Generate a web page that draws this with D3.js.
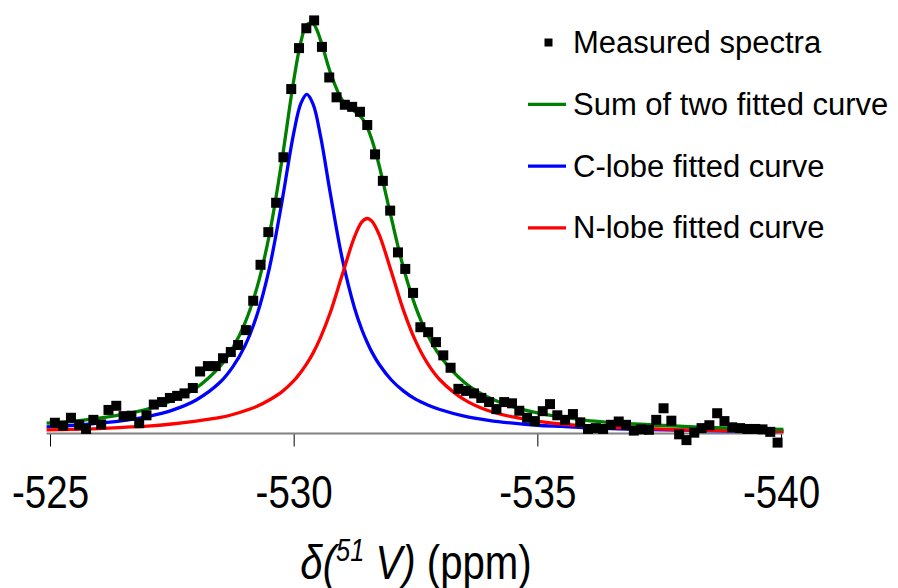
<!DOCTYPE html>
<html>
<head>
<meta charset="utf-8">
<script src="https://cdn.jsdelivr.net/npm/d3@7"></script>
<style>
  body { margin: 0; background: #fff; }
  svg { display: block; }
</style>
</head>
<body>
<script>
// measured spectrum (ppm, intensity a.u.)
var measuredPpm = [-525.10, -525.27, -525.43, -525.60, -525.74, -525.89, -526.05, -526.20, -526.36, -526.51,
    -526.67, -526.83, -526.98, -527.13, -527.30, -527.46, -527.61, -527.76, -527.93, -528.08,
    -528.24, -528.40, -528.55, -528.71, -528.86, -529.02, -529.17, -529.32, -529.48, -529.64,
    -529.79, -529.95, -530.11, -530.26, -530.42, -530.58, -530.73, -530.88, -531.05, -531.20,
    -531.36, -531.51, -531.67, -531.83, -531.98, -532.14, -532.29, -532.45, -532.60, -532.76,
    -532.92, -533.07, -533.22, -533.38, -533.54, -533.70, -533.85, -534.01, -534.16, -534.32,
    -534.48, -534.63, -534.79, -534.95, -535.11, -535.26, -535.41, -535.57, -535.73, -535.88,
    -536.04, -536.20, -536.35, -536.51, -536.67, -536.82, -536.98, -537.13, -537.29, -537.44,
    -537.59, -537.75, -537.91, -538.06, -538.22, -538.37, -538.53, -538.69, -538.84, -539.00,
    -539.16, -539.31, -539.47, -539.62, -539.78, -539.93];
var measuredInt = [2.6, 1.9, 3.8, 2.1, 1.1, 3.3, 2.2, 5.7, 6.7, 4.2,
    4.3, 2.5, 4.4, 7.0, 7.6, 8.6, 9.1, 9.7, 11.0, 15.0,
    16.3, 16.3, 18.2, 19.7, 21.4, 25.0, 32.1, 40.8, 48.7, 55.8,
    66.8, 83.3, 93.2, 98.0, 99.9, 93.5, 86.1, 81.3, 79.5, 79.0,
    77.8, 74.6, 67.5, 61.1, 53.9, 43.8, 39.8, 34.0, 25.7, 24.5,
    22.1, 18.9, 15.9, 10.8, 10.3, 9.7, 8.6, 7.6, 5.9, 7.6,
    7.3, 5.5, 3.8, 3.0, 5.4, 7.1, 4.4, 3.3, 4.7, 2.7,
    1.1, 1.3, 1.1, 2.1, 2.9, 2.1, 0.7, 1.0, 0.9, 3.3,
    6.1, 3.1, -0.2, -1.6, 0.2, 1.3, 2.0, 4.9, 3.0, 1.5,
    1.3, 1.1, 1.1, 1.0, 0.4, -2.2];

// fitted curves, read at these ppm positions
var curvePpm = [-524.93, -525.5, -526, -526.5, -527, -527.5, -528, -528.5, -528.75, -529,
    -529.25, -529.5, -529.75, -530, -530.15, -530.27, -530.4, -530.55, -530.75, -531,
    -531.25, -531.4, -531.51, -531.6, -531.75, -532, -532.25, -532.5, -532.75, -533,
    -533.5, -534, -534.5, -535, -535.5, -536, -537, -538, -539, -540.05];
var sumCurve = [2.5, 3.0, 3.7, 4.6, 5.9, 7.9, 11.0, 16.4, 20.7, 26.7,
    35.4, 48.0, 65.4, 85.3, 94.8, 98.9, 99.1, 95.2, 87.4, 80.6,
    77.9, 76.3, 74.0, 71.2, 65.0, 52.3, 40.2, 30.7, 23.8, 18.8,
    12.4, 8.7, 6.5, 5.0, 4.0, 3.2, 2.3, 1.7, 1.3, 1.0];
var cLobe = [1.6, 2.0, 2.5, 3.1, 4.1, 5.6, 8.1, 12.5, 16.1, 21.2,
    28.8, 39.9, 55.4, 72.6, 79.9, 82.0, 79.6, 72.0, 58.2, 42.1,
    30.3, 25.1, 22.0, 19.8, 16.8, 13.0, 10.3, 8.3, 6.9, 5.8,
    4.2, 3.2, 2.5, 2.0, 1.7, 1.4, 1.0, 0.8, 0.6, 0.5];
var nLobe = [0.9, 1.0, 1.2, 1.5, 1.8, 2.3, 3.0, 3.9, 4.6, 5.5,
    6.6, 8.1, 10.0, 12.7, 14.9, 16.9, 19.5, 23.2, 29.2, 38.5,
    47.6, 51.2, 52.0, 51.4, 48.2, 39.3, 29.9, 22.4, 16.9, 13.0,
    8.2, 5.5, 4.0, 3.0, 2.3, 1.8, 1.3, 0.9, 0.7, 0.5];

var xTicks = [-525, -530, -535, -540];

var legendItems = [
    {label: 'Measured spectra', type: 'marker', color: '#000000'},
    {label: 'Sum of two fitted curve', type: 'line', color: '#008000'},
    {label: 'C-lobe fitted curve', type: 'line', color: '#0000ff'},
    {label: 'N-lobe fitted curve', type: 'line', color: '#ff0000'}
];

var scr = {w: 898, h: 588};

var svg = d3.select('body')
    .append('svg')
    .attr('width', scr.w)
    .attr('height', scr.h);

var xScale = d3.scaleLinear()
    .domain([-525, -540])
    .range([50, 781]);

var yScale = d3.scaleLinear()
    .domain([0, 100])
    .range([433.5, 20]);

// no Arial Narrow here, so squeeze Liberation Sans instead
var axisFont = '"Liberation Sans", Arial, sans-serif';
var squeeze = 0.82;

// x axis
var xAxis = d3.axisBottom(xScale)
    .tickValues(xTicks)
    .tickSize(13)
    .tickSizeOuter(0)
    .tickFormat(function(d) { return String(d); });

var axisG = svg.append('g')
    .attr('transform', 'translate(0,433.5)')
    .call(xAxis);
axisG.select('.domain').remove();
axisG.selectAll('.tick line')
    .attr('stroke', '#000')
    .attr('stroke-width', 1);
axisG.selectAll('.tick text')
    .attr('y', 0)
    .attr('dy', 0)
    .attr('transform', 'translate(0,74) scale(' + squeeze + ',1)')
    .attr('fill', '#000')
    .style('font-family', axisFont)
    .style('font-size', '47px');

svg.append('line')
    .attr('x1', xScale(curvePpm[0]))
    .attr('x2', xScale(curvePpm[curvePpm.length - 1]))
    .attr('y1', 433.5)
    .attr('y2', 433.5)
    .attr('stroke', '#808080')
    .attr('stroke-width', 2);

// axis title
var title = svg.append('text')
    .attr('transform', 'translate(416,579) scale(' + squeeze + ',1)')
    .attr('text-anchor', 'middle')
    .style('font-family', axisFont)
    .style('font-size', '49px')
    .style('white-space', 'pre')
    .attr('fill', '#000');
title.append('tspan').style('font-style', 'italic').text('\u03b4(');
title.append('tspan').style('font-style', 'italic').style('font-size', '31px').attr('dy', -18).text('51');
title.append('tspan').style('font-style', 'italic').attr('dy', 18).text(' V) ');
title.append('tspan').text('(ppm)');

// curves
var line = d3.line()
    .x(function(d) { return xScale(d[0]); })
    .y(function(d) { return yScale(d[1]); })
    .curve(d3.curveCatmullRom.alpha(0.5));

var curves = [
    {values: cLobe, color: '#0000ff'},
    {values: nLobe, color: '#ff0000'},
    {values: sumCurve, color: '#008000'}
];

svg.selectAll('path.fit')
    .data(curves)
    .enter()
    .append('path')
    .classed('fit', true)
    .attr('d', function(c) {
        return line(curvePpm.map(function(p, i) { return [p, c.values[i]]; }));
    })
    .attr('fill', 'none')
    .attr('stroke', function(c) { return c.color; })
    .attr('stroke-width', 3.3);

// measured points
var mSize = 10;
svg.selectAll('rect.pt')
    .data(measuredPpm)
    .enter()
    .append('rect')
    .classed('pt', true)
    .attr('x', function(d) { return xScale(d) - mSize / 2; })
    .attr('y', function(d, i) { return yScale(measuredInt[i]) - mSize / 2; })
    .attr('width', mSize)
    .attr('height', mSize)
    .attr('fill', '#000');

// legend
var legend = svg.append('g')
    .attr('transform', 'translate(527,0)');

var items = legend.selectAll('g')
    .data(legendItems)
    .enter()
    .append('g')
    .attr('transform', function(d, i) { return 'translate(0,' + (42.5 + i * 61.8) + ')'; });

items.filter(function(d) { return d.type == 'line'; })
    .append('line')
    .attr('x1', 1)
    .attr('x2', 39)
    .attr('y1', 0)
    .attr('y2', 0)
    .attr('stroke', function(d) { return d.color; })
    .attr('stroke-width', 3.3);

items.filter(function(d) { return d.type == 'marker'; })
    .append('rect')
    .attr('x', 17.5)
    .attr('y', -4)
    .attr('width', 8)
    .attr('height', 8)
    .attr('fill', function(d) { return d.color; });

items.append('text')
    .attr('x', 46)
    .attr('y', 10.5)
    .style('font-family', '"Liberation Sans", Arial, sans-serif')
    .style('font-size', '31px')
    .attr('fill', '#000')
    .text(function(d) { return d.label; });
</script>
</body>
</html>
